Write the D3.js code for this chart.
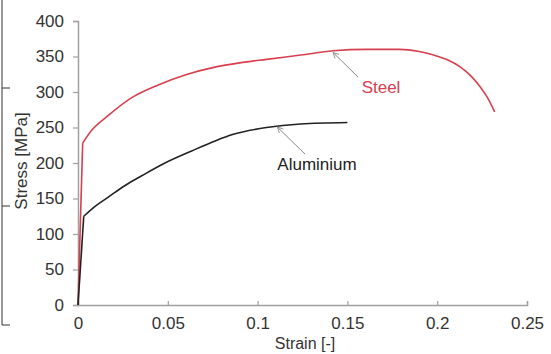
<!DOCTYPE html>
<html>
<head>
<meta charset="utf-8">
<script src="https://cdn.jsdelivr.net/npm/d3@7"></script>
<style>
  body { margin: 0; background: #fff; }
  svg { display: block; font-family: "Liberation Sans", Arial, sans-serif; }
</style>
</head>
<body>
<svg id="chart" width="551" height="354"></svg>
<script>
// values: strain [-], stress [MPa]
const steelStrain = [0, 0.0026, 0.0076, 0.0169, 0.0299, 0.0447, 0.0596, 0.0763, 0.09, 0.105, 0.124, 0.142, 0.161, 0.179, 0.19, 0.198, 0.206, 0.213, 0.219, 0.224, 0.228, 0.232];
const steelStress = [0, 228, 246, 267, 292, 310, 324, 335, 341, 346, 352, 358, 360, 360, 357, 352, 345, 335, 322, 307, 292, 272];

const aluStrain = [0, 0.0032, 0.0095, 0.0169, 0.026, 0.0355, 0.0484, 0.0633, 0.0763, 0.086, 0.105, 0.124, 0.15];
const aluStress = [0, 125, 139, 152, 168, 182, 200, 217, 231, 240, 250, 255, 257];

const xTicks = [0, 0.05, 0.1, 0.15, 0.2, 0.25];
const yTicks = [0, 50, 100, 150, 200, 250, 300, 350, 400];

const svg = d3.select("#chart");

const x = d3.scaleLinear().domain([0, 0.25]).range([78, 527]);
const y = d3.scaleLinear().domain([0, 400]).range([305, 21]);

// bits of a neighbouring frame on the left edge
svg.append("g").attr("stroke", "#333").attr("stroke-width", 1)
  .selectAll("line")
  .data([[2, 0, 2, 325], [2, 325, 10, 325], [2, 88, 10, 88], [2, 206, 10, 206]])
  .enter().append("line")
    .attr("x1", d => d[0]).attr("y1", d => d[1])
    .attr("x2", d => d[2]).attr("y2", d => d[3]);

// axes
const yAxis = d3.axisLeft(y).tickValues(yTicks).tickSize(5).tickPadding(9).tickFormat(d3.format("d"));
const xAxis = d3.axisBottom(x).tickValues(xTicks).tickSize(-4).tickPadding(12).tickFormat(d => d === 0 ? "0" : String(d));

const gy = svg.append("g").attr("transform", "translate(78,0)").call(yAxis);
const gx = svg.append("g").attr("transform", "translate(0,305)").call(xAxis);

[gx, gy].forEach(g => {
  g.select(".domain").attr("stroke", "#a0a0a0").attr("stroke-width", 1.5);
  g.selectAll(".tick line").attr("stroke", "#a0a0a0").attr("stroke-width", 1.2);
  g.selectAll(".tick text").attr("fill", "#333").style("font-size", "17px")
    .style("font-family", "'Liberation Sans', Arial, sans-serif");
});

// curves: elastic part straight, the rest smoothed
const straight = d3.line().x(d => x(d[0])).y(d => y(d[1]));
const smooth = d3.line().x(d => x(d[0])).y(d => y(d[1])).curve(d3.curveMonotoneX);

function drawCurve(xs, ys, color) {
  const pts = xs.map((v, i) => [v, ys[i]]);
  svg.append("path").attr("d", straight(pts.slice(0, 2)))
    .attr("fill", "none").attr("stroke", color).attr("stroke-width", 1.6);
  svg.append("path").attr("d", smooth(pts.slice(1)))
    .attr("fill", "none").attr("stroke", color).attr("stroke-width", 1.6);
}

drawCurve(steelStrain, steelStress, "#d6404f");
drawCurve(aluStrain, aluStress, "#222");

// labels with pointer lines
svg.append("defs").append("marker")
  .attr("id", "arr").attr("viewBox", "0 0 10 10").attr("refX", 9).attr("refY", 5)
  .attr("markerWidth", 7).attr("markerHeight", 7).attr("orient", "auto")
  .append("path").attr("d", "M1,1 L9,5 L1,9").attr("fill", "none").attr("stroke", "#888").attr("stroke-width", 1.2);

const notes = [
  { text: "Steel", color: "#d6404f", tx: 381, ty: 93, from: [358, 77], to: [0.142, 357] },
  { text: "Aluminium", color: "#222", tx: 317, ty: 170, from: [305, 154], to: [0.111, 252] }
];

notes.forEach(n => {
  svg.append("line")
    .attr("x1", n.from[0]).attr("y1", n.from[1])
    .attr("x2", x(n.to[0])).attr("y2", y(n.to[1]) + 1)
    .attr("stroke", "#888").attr("stroke-width", 1)
    .attr("marker-end", "url(#arr)");
  svg.append("text").attr("x", n.tx).attr("y", n.ty)
    .attr("text-anchor", "middle").attr("fill", n.color)
    .style("font-size", "17px").text(n.text);
});

// axis titles
svg.append("text").attr("x", 305).attr("y", 349).attr("text-anchor", "middle")
  .attr("fill", "#333").style("font-size", "16px").text("Strain [-]");
svg.append("text").attr("transform", "translate(27,161) rotate(-90)").attr("text-anchor", "middle")
  .attr("fill", "#333").style("font-size", "17px").text("Stress [MPa]");
</script>
</body>
</html>
